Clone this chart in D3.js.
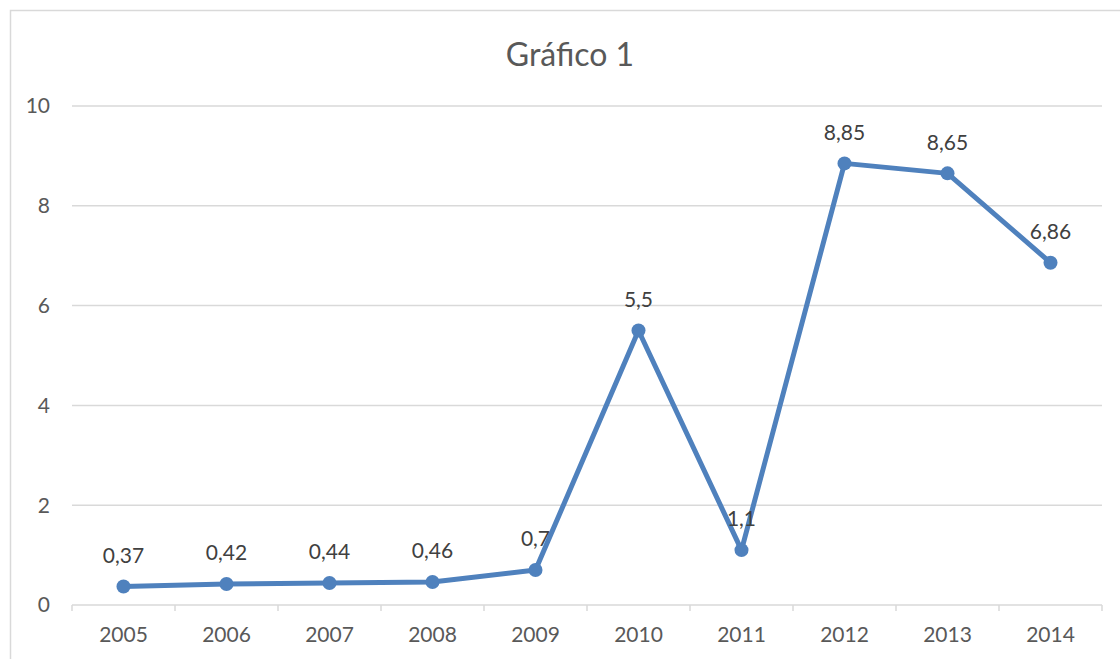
<!DOCTYPE html>
<html>
<head>
<meta charset="utf-8">
<script src="https://cdn.jsdelivr.net/npm/d3@7"></script>
<style>
  body { margin: 0; background: #fff; }
  text { font-family: Lato, "Open Sans", sans-serif; }
</style>
</head>
<body>
<svg id="chart" width="1120" height="659"></svg>
<script>
// data
var years = ["2005", "2006", "2007", "2008", "2009", "2010", "2011", "2012", "2013", "2014"];
var values = [0.37, 0.42, 0.44, 0.46, 0.7, 5.5, 1.1, 8.85, 8.65, 6.86];
var valueLabels = ["0,37", "0,42", "0,44", "0,46", "0,7", "5,5", "1,1", "8,85", "8,65", "6,86"];
var yTicks = [0, 2, 4, 6, 8, 10];
var title = "Gráfico 1";

var svg = d3.select("#chart"),
    width = +svg.attr("width"),
    height = +svg.attr("height");

// chart area border
svg.append("rect")
    .attr("x", 10.5)
    .attr("y", 10.5)
    .attr("width", width + 20)
    .attr("height", height + 20)
    .attr("fill", "white")
    .attr("stroke", "#d9d9d9")
    .attr("stroke-width", 1.5);

var margin = {left: 72, right: 1102, top: 106, bottom: 605};

var x = d3.scaleBand()
    .domain(years)
    .range([margin.left, margin.right]);

var y = d3.scaleLinear()
    .domain([0, 10])
    .range([margin.bottom, margin.top]);

svg.append("text")
    .attr("x", 570)
    .attr("y", 66)
    .attr("text-anchor", "middle")
    .attr("font-size", 32)
    .attr("fill", "#595959")
    .text(title);

// gridlines
svg.append("g")
    .selectAll("line")
    .data(yTicks.filter(function(d) { return d > 0; }))
    .enter()
    .append("line")
    .attr("x1", margin.left)
    .attr("x2", margin.right)
    .attr("y1", function(d) { return y(d); })
    .attr("y2", function(d) { return y(d); })
    .attr("stroke", "#d9d9d9")
    .attr("stroke-width", 1.5);

// y labels
svg.append("g")
    .selectAll("text")
    .data(yTicks)
    .enter()
    .append("text")
    .attr("x", 50)
    .attr("y", function(d) { return y(d); })
    .attr("dy", "0.35em")
    .attr("text-anchor", "end")
    .attr("font-size", 21)
    .attr("fill", "#595959")
    .text(function(d) { return d; });

// x axis
var xAxis = svg.append("g");
xAxis.append("line")
    .attr("x1", margin.left)
    .attr("x2", margin.right)
    .attr("y1", y(0))
    .attr("y2", y(0))
    .attr("stroke", "#d9d9d9")
    .attr("stroke-width", 1.5);

var boundaries = years.map(function(d) { return x(d); }).concat([x.range()[1]]);
xAxis.selectAll(".tick")
    .data(boundaries)
    .enter()
    .append("line")
    .attr("x1", function(d) { return d; })
    .attr("x2", function(d) { return d; })
    .attr("y1", y(0))
    .attr("y2", y(0) + 6)
    .attr("stroke", "#d9d9d9")
    .attr("stroke-width", 1.5);

xAxis.selectAll(".label")
    .data(years)
    .enter()
    .append("text")
    .attr("x", function(d) { return x(d) + x.bandwidth() / 2; })
    .attr("y", 642)
    .attr("text-anchor", "middle")
    .attr("font-size", 21)
    .attr("fill", "#595959")
    .text(function(d) { return d; });

// line
var line = d3.line()
    .x(function(d, i) { return x(years[i]) + x.bandwidth() / 2; })
    .y(function(d) { return y(d); });

svg.append("path")
    .datum(values)
    .attr("d", line)
    .attr("fill", "none")
    .attr("stroke", "#4f81bd")
    .attr("stroke-width", 5)
    .attr("stroke-linejoin", "round");

svg.append("g")
    .selectAll("circle")
    .data(values)
    .enter()
    .append("circle")
    .attr("cx", function(d, i) { return x(years[i]) + x.bandwidth() / 2; })
    .attr("cy", function(d) { return y(d); })
    .attr("r", 7)
    .attr("fill", "#4f81bd");

// data labels
svg.append("g")
    .selectAll("text")
    .data(values)
    .enter()
    .append("text")
    .attr("x", function(d, i) { return x(years[i]) + x.bandwidth() / 2; })
    .attr("y", function(d) { return y(d) - 31; })
    .attr("dy", "0.35em")
    .attr("text-anchor", "middle")
    .attr("font-size", 21)
    .attr("fill", "#404040")
    .text(function(d, i) { return valueLabels[i]; });
</script>
</body>
</html>
